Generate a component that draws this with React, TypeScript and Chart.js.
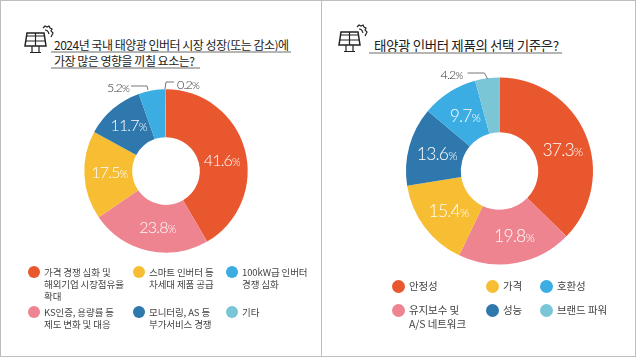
import React, { useEffect, useRef } from "react";
import { Chart, registerables } from "chart.js";

Chart.register(...registerables);

const leftTitle = ["2024년 국내 태양광 인버터 시장 성장(또는 감소)에", "가장 많은 영향을 끼칠 요소는?"];
const rightTitle = ["태양광 인버터 제품의 선택 기준은?"];

const leftCategories = [
  "가격 경쟁 심화 및\n해외기업 시장점유율\n확대",
  "KS인증, 용량률 등\n제도 변화 및 대응",
  "스마트 인버터 등\n차세대 제품 공급",
  "모니터링, AS 등\n부가서비스 경쟁",
  "100kW급 인버터\n경쟁 심화",
  "기타",
];
const leftValues = [41.6, 23.8, 17.5, 11.7, 5.2, 0.2];

const rightCategories = ["안정성", "유지보수 및\nA/S 네트워크", "가격", "성능", "호환성", "브랜드 파워"];
const rightValues = [37.3, 19.8, 15.4, 13.6, 9.7, 4.2];

const colors = ["#E9572F", "#EE8490", "#F7BE33", "#2F78AE", "#3BADE3", "#7AC6D6"];
const GREY = "#BDBDBD";
const KR = '"Noto Sans CJK KR", "Noto Sans", sans-serif';
const NUM = 'Lato, "Noto Sans", sans-serif';

type Offset = [number, number];
type Leader = { index: number; text: [number, number]; path: [number, number][] };

const fmt = (v: number) => v.toFixed(1);

function drawValue(ctx: CanvasRenderingContext2D, v: number, x: number, y: number, size: number, small: number, color: string, align: "center" | "left") {
  const num = fmt(v);
  const anyCtx = ctx as any;
  anyCtx.letterSpacing = "-0.8px";
  ctx.font = `300 ${size}px ${NUM}`;
  const w1 = ctx.measureText(num).width;
  ctx.font = `300 ${small}px ${NUM}`;
  const w2 = ctx.measureText("%").width;
  const sx = align === "center" ? x - (w1 + w2) / 2 : x;
  ctx.fillStyle = color;
  ctx.textBaseline = "alphabetic";
  ctx.textAlign = "left";
  ctx.font = `300 ${size}px ${NUM}`;
  ctx.fillText(num, sx, y + size * 0.36);
  ctx.font = `300 ${small}px ${NUM}`;
  ctx.fillText("%", sx + w1, y + size * 0.36);
  anyCtx.letterSpacing = "0px";
}

function Donut({ values, left, top, width, height, radius, cutout, offsets, leaders, size, small }: {
  values: number[]; left: number; top: number; width: number; height: number; radius: number; cutout: string;
  offsets: Offset[]; leaders: Leader[]; size: number; small: number;
}) {
  const ref = useRef<HTMLCanvasElement>(null);
  useEffect(() => {
    const labelPlugin = {
      id: "sliceLabels",
      afterDatasetsDraw(chart: any) {
        const ctx: CanvasRenderingContext2D = chart.ctx;
        const arcs = chart.getDatasetMeta(0).data;
        ctx.save();
        arcs.forEach((arc: any, i: number) => {
          if (!offsets[i]) return;
          const p = arc.tooltipPosition();
          drawValue(ctx, values[i], p.x + offsets[i][0], p.y + offsets[i][1], size, small, "#FFFFFF", "center");
        });
        leaders.forEach((l) => {
          const { x, y } = arcs[l.index];
          ctx.strokeStyle = "#555";
          ctx.lineWidth = 0.8;
          ctx.beginPath();
          l.path.forEach(([dx, dy], k) => (k ? ctx.lineTo(x + dx, y + dy) : ctx.moveTo(x + dx, y + dy)));
          ctx.stroke();
          drawValue(ctx, values[l.index], x + l.text[0], y + l.text[1], 12.5, 10, "#333", "left");
        });
        ctx.restore();
      },
    };
    const chart = new Chart(ref.current!, {
      type: "doughnut",
      data: {
        labels: values.map(fmt),
        datasets: [{ data: values, backgroundColor: colors, borderWidth: 0 }],
      },
      options: {
        animation: false,
        responsive: false,
        radius,
        cutout,
        layout: { padding: 0 },
        plugins: { legend: { display: false }, tooltip: { enabled: false } },
      },
      plugins: [labelPlugin],
    } as any);
    return () => chart.destroy();
  }, []);
  return <canvas ref={ref} width={width} height={height} style={{ position: "absolute", left, top, width, height }} />;
}

function Icon({ x, y }: { x: number; y: number }) {
  return (
    <svg width={32} height={32} viewBox="0 0 32 32" style={{ position: "absolute", left: x, top: y }} fill="none" stroke="#222" strokeWidth={1.2}>
      <path d="M3 9 H20 L22 22 H1 Z" strokeWidth={1.5} />
      <path d="M2.5 12 H20 M11.5 9 V22 M2 17 H21" />
      <path d="M8 22 V28 M15 22 V28 M6 28.5 H17" />
      <path d="M19 4 L21 2 L23 3 L25 2 L26 4 L28 5 L27 7 L29 9 L28 11 L27 13" />
      <path d="M21 6 Q24 6 25 10" />
    </svg>
  );
}

function Title({ lines, x, y, lineGap, fontSize, underlines, spacing, under }: {
  lines: string[]; x: number; y: number; lineGap: number; fontSize: number; underlines: [number, number][]; spacing: number; under: number;
}) {
  return (
    <>
      {lines.map((t, i) => (
        <React.Fragment key={i}>
          <div style={{ position: "absolute", left: x, top: y + i * lineGap - 10, height: 20, font: `400 ${fontSize}px/20px ${KR}`, color: "#222", letterSpacing: spacing, whiteSpace: "pre" }}>{t}</div>
          <div style={{ position: "absolute", left: underlines[i][0], width: underlines[i][1], top: y + i * lineGap + under, height: 1.5, background: "#B5B5B5" }} />
        </React.Fragment>
      ))}
    </>
  );
}

function Legend({ items, cols, rows, textDx, r, fontSize, lineHeight }: {
  items: string[]; cols: number[]; rows: number[]; textDx: number; r: number; fontSize: number; lineHeight: number;
}) {
  return (
    <>
      {items.map((t, i) => {
        const row = i % 2;
        const col = Math.floor(i / 2);
        const cx = cols[col];
        const cy = rows[row];
        return (
          <React.Fragment key={i}>
            <div style={{ position: "absolute", left: cx - r, top: cy - r, width: 2 * r, height: 2 * r, borderRadius: "50%", background: colors[i] }} />
            <div style={{ position: "absolute", left: cx + textDx, top: cy - lineHeight / 2, font: `400 ${fontSize}px/${lineHeight}px ${KR}`, color: "#444", whiteSpace: "pre", letterSpacing: -0.1 }}>{t}</div>
          </React.Fragment>
        );
      })}
    </>
  );
}

export default function App() {
  return (
    <div style={{ position: "absolute", left: 0, top: 0, width: 636, height: 357, background: "#fff", overflow: "hidden" }}>
      <div style={{ position: "absolute", inset: 0, border: `1.5px solid ${GREY}`, boxSizing: "border-box" }} />
      <div style={{ position: "absolute", left: 320.5, top: 0, width: 1.5, height: 357, background: GREY }} />

      <Icon x={24} y={24} />
      <Title lines={leftTitle} x={54} y={45} lineGap={16} fontSize={12} spacing={-0.5} under={6} underlines={[[51, 240], [51, 149]]} />
      <Donut values={leftValues} left={16} top={1} width={300} height={340} radius={81.7} cutout="41.4%"
        offsets={[[0, 4], [4, 0], [1, -2], [0, -2]]}
        leaders={[
          { index: 4, text: [-59, -84], path: [[-35, -85], [-19, -85], [-18, -81]] },
          { index: 5, text: [11, -87], path: [[8, -89], [0, -89], [-1, -82]] },
        ]}
        size={16} small={11} />

      <Icon x={338} y={23} />
      <Title lines={rightTitle} x={374} y={45} lineGap={16} fontSize={13.5} spacing={-0.4} under={7} underlines={[[369, 193]]} />
      <Donut values={rightValues} left={360} top={1} width={279} height={340} radius={93.5} cutout="41.4%"
        offsets={[[2, 4], [3, 0], [2, 0], [1, 0], [1, 0]]}
        leaders={[{ index: 5, text: [-59, -97], path: [[-32, -98], [-15, -98], [-12, -92]] }]}
        size={17.5} small={12} />

      <Legend items={leftCategories} cols={[34, 139, 232]} rows={[272, 312]} textDx={10} r={6} fontSize={9.5} lineHeight={12} />
      <Legend items={rightCategories} cols={[398, 492, 546]} rows={[286, 310]} textDx={11} r={6.5} fontSize={10.5} lineHeight={14} />
    </div>
  );
}
